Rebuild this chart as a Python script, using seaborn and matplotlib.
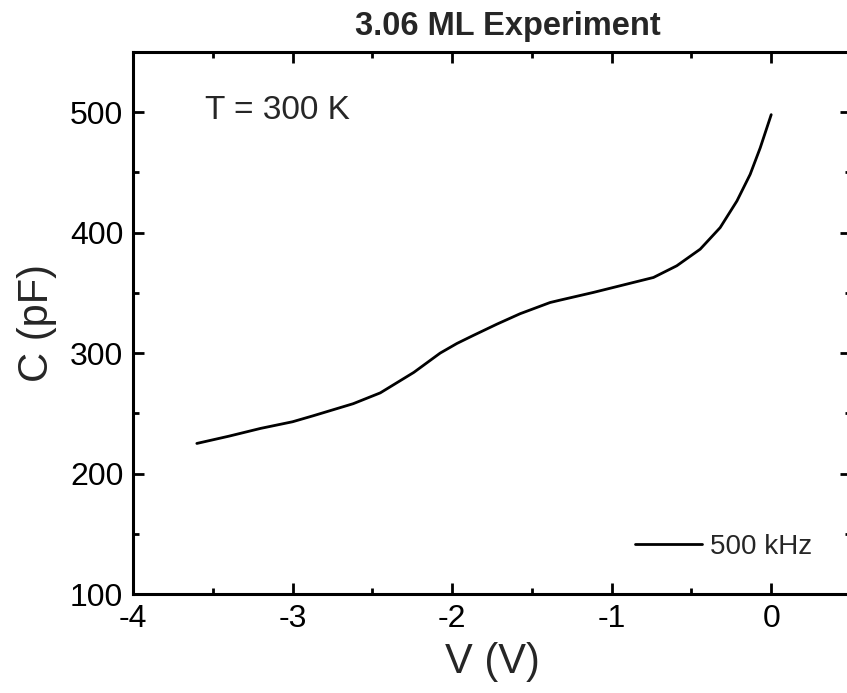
import matplotlib
matplotlib.use("Agg")
import matplotlib.pyplot as plt
import seaborn as sns
import pandas as pd
from matplotlib.ticker import MultipleLocator

voltage = [-3.60, -3.40, -3.20, -3.00, -2.87, -2.62, -2.45, -2.24, -2.075, -1.97,
           -1.87, -1.72, -1.574, -1.386, -1.323, -1.114, -0.905, -0.738, -0.592,
           -0.445, -0.320, -0.215, -0.132, -0.069, 0.0]
capacitance = [225, 231, 237.5, 243, 248, 258, 267, 284, 300, 308,
               314.5, 324, 332.7, 342.0, 344.0, 350.4, 357.3, 362.8, 372.5,
               386.3, 404.2, 426.3, 448.4, 470.4, 498]
series_label = "500 kHz"
title = "3.06 ML Experiment"
annotation = "T = 300 K"
xlabel = "V (V)"
ylabel = "C (pF)"

sns.set_style("ticks")
plt.rcParams['font.family'] = ['Liberation Sans', 'DejaVu Sans']

df = pd.DataFrame({"V": voltage, "C": capacitance})

fig = plt.figure(figsize=(8.47, 6.93), dpi=100)
ax = fig.add_axes([133/847, (693-594)/693, (851-133)/847, (594-52)/693])

sns.lineplot(data=df, x="V", y="C", ax=ax, color="black", linewidth=2,
             sort=False, label=series_label)

ax.set_xlim(-4, 0.5)
ax.set_ylim(100, 550)
ax.xaxis.set_major_locator(MultipleLocator(1))
ax.xaxis.set_minor_locator(MultipleLocator(0.5))
ax.yaxis.set_major_locator(MultipleLocator(100))
ax.yaxis.set_minor_locator(MultipleLocator(50))
ax.set_xticks([-4, -3, -2, -1, 0])
ax.set_xticklabels(["-4", "-3", "-2", "-1", "0"])
ax.set_yticks([100, 200, 300, 400, 500])

ax.tick_params(which="both", direction="in", top=True, right=True, width=2, colors="black")
ax.tick_params(which="major", length=8, labelsize=23, pad=7)
ax.tick_params(which="minor", length=4.5)
for sp in ax.spines.values():
    sp.set_linewidth(2.2)
    sp.set_color("black")
    sp.set_visible(True)

ax.set_xlabel(xlabel, fontsize=30)
ax.set_ylabel(ylabel, fontsize=30)
ax.xaxis.set_label_coords(0.5, -0.089)
ax.yaxis.set_label_coords(-0.106, 0.5)

ax.text((205-133)/718, (594-119)/542, annotation, transform=ax.transAxes,
        fontsize=24, ha="left", va="baseline")
fig.text(507.5/847, (693-35)/693, title, fontsize=23.5, fontweight="bold",
         ha="center", va="baseline")

ax.legend(loc="center left", bbox_to_anchor=((635-133)/718, (594-547)/542),
          frameon=False, fontsize=20, handlelength=2.4, handletextpad=0.3,
          borderpad=0, borderaxespad=0)

fig.savefig("out.png", dpi=100)
